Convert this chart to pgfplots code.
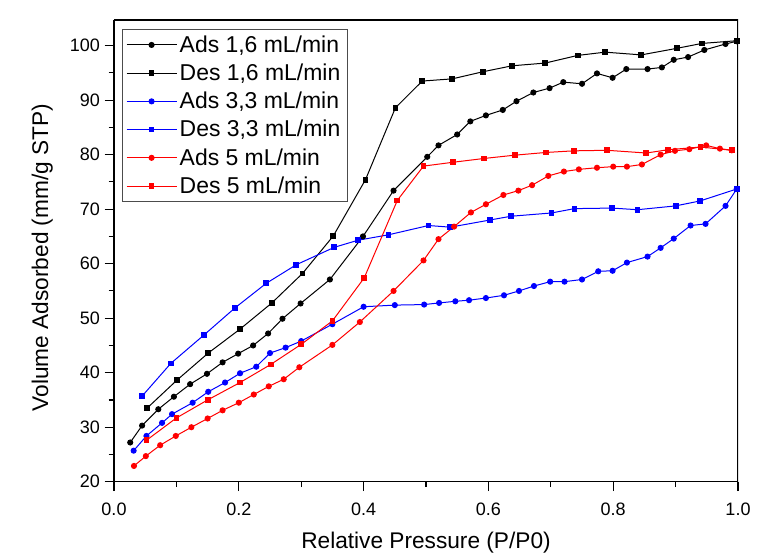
\documentclass[border=0pt]{standalone}
\usepackage{fontspec}
\setmainfont{Liberation Sans}
\usepackage{pgfplots}
\pgfplotsset{compat=1.18}

\begin{document}
\begin{tikzpicture}
\begin{axis}[
    name=ax,
    at={(0,0)}, anchor=south west,
    width=468pt, height=346.3pt, scale only axis,
    xmin=0, xmax=1, ymin=20, ymax=104.7,
    xtick={0,0.2,...,1.0}, minor x tick num=1,
    ytick={20,30,...,100}, minor y tick num=1,
    axis x line*=bottom, axis y line*=left,
    tick align=outside,
    major tick length=7pt, minor tick length=4pt,
    every tick/.style={black, line width=0.8pt},
    axis line style={line width=0.9pt},
    /pgf/number format/assume math mode=true,
    tick label style={font=\fontsize{13.5}{16}\selectfont},
    xticklabel style={yshift=-5pt, /pgf/number format/.cd, fixed, fixed zerofill, precision=1},
    xlabel={Relative Pressure (P/P0)},
    ylabel={Volume Adsorbed (mm/g STP)},
    label style={font=\fontsize{17}{20}\selectfont},
    xlabel style={yshift=-6pt},
    ylabel style={yshift=6pt, xshift=-5pt},
    legend cell align=left,
    legend style={at={(0.0123,0.98)}, anchor=north west,
        draw=black!70, line width=0.6pt,
        font=\fontsize{17.2}{20}\selectfont, row sep=3.2pt,
        inner xsep=3pt, inner ysep=2.5pt},
    legend image code/.code={\draw[mark repeat=2,mark phase=2,#1]
        plot coordinates {(0pt,0pt)(18.75pt,0pt)(37.5pt,0pt)};},
    every axis plot/.append style={line width=0.75pt},
]
% box on top and right
\addplot[black, line width=0.9pt, forget plot, mark=none] coordinates {(0,104.7)(1,104.7)(1,20)};

\addplot[black, mark=*, mark size=1.9pt] coordinates {
(0.026,27.2)(0.045,30.3)(0.071,33.3)(0.096,35.6)(0.122,37.9)(0.149,39.8)(0.174,41.9)(0.199,43.5)(0.223,45.0)(0.247,47.2)(0.270,49.9)(0.299,52.7)(0.346,57.1)(0.399,65.0)(0.448,73.4)(0.502,79.6)(0.520,81.7)(0.550,83.7)(0.571,86.1)(0.596,87.2)(0.623,88.2)(0.645,89.8)(0.672,91.4)(0.698,92.2)(0.720,93.3)(0.750,93.0)(0.774,94.9)(0.799,94.1)(0.821,95.7)(0.855,95.7)(0.878,96.0)(0.897,97.4)(0.920,97.9)(0.946,99.2)(0.980,100.3)(0.998,100.8)};
\addlegendentry{Ads 1,6 mL/min}

\addplot[black, mark=square*, mark size=1.8pt] coordinates {
(0.053,33.5)(0.1015,38.7)(0.151,43.6)(0.202,48.0)(0.253,52.8)(0.302,58.2)(0.3515,65.1)(0.403,75.4)(0.451,88.6)(0.494,93.5)(0.542,93.9)(0.591,95.2)(0.638,96.3)(0.691,96.8)(0.743,98.2)(0.787,98.8)(0.845,98.3)(0.902,99.5)(0.942,100.4)(0.998,100.9)};
\addlegendentry{Des 1,6 mL/min}

\addplot[blue, mark=*, mark size=1.9pt] coordinates {
(0.0315,25.7)(0.052,28.4)(0.077,30.8)(0.093,32.4)(0.126,34.5)(0.151,36.5)(0.178,38.2)(0.202,39.9)(0.228,41.1)(0.250,43.6)(0.275,44.6)(0.300,45.8)(0.350,48.9)(0.400,52.1)(0.450,52.4)(0.497,52.5)(0.521,52.8)(0.547,53.1)(0.569,53.3)(0.596,53.7)(0.625,54.2)(0.649,55.0)(0.673,55.9)(0.699,56.7)(0.722,56.7)(0.750,57.1)(0.776,58.6)(0.799,58.7)(0.822,60.2)(0.855,61.3)(0.876,62.9)(0.897,64.6)(0.924,67.0)(0.948,67.3)(0.980,70.6)(0.998,73.7)};
\addlegendentry{Ads 3,3 mL/min}

\addplot[blue, mark=square*, mark size=1.8pt] coordinates {
(0.045,35.7)(0.091,41.7)(0.144,46.9)(0.194,51.9)(0.244,56.4)(0.292,59.8)(0.353,63.0)(0.391,64.3)(0.440,65.3)(0.504,67.0)(0.539,66.7)(0.602,68.0)(0.636,68.7)(0.701,69.3)(0.738,70.1)(0.798,70.2)(0.839,69.9)(0.900,70.6)(0.939,71.5)(0.998,73.7)};
\addlegendentry{Des 3,3 mL/min}

\addplot[red, mark=*, mark size=1.9pt] coordinates {
(0.032,22.9)(0.051,24.7)(0.074,26.7)(0.099,28.4)(0.124,30.0)(0.150,31.6)(0.174,33.1)(0.200,34.5)(0.224,36.0)(0.248,37.5)(0.272,38.8)(0.297,41.0)(0.350,45.1)(0.394,49.3)(0.448,55.0)(0.496,60.6)(0.520,64.5)(0.545,66.8)(0.572,69.4)(0.596,70.9)(0.624,72.6)(0.648,73.4)(0.670,74.4)(0.696,76.1)(0.721,76.9)(0.745,77.3)(0.774,77.6)(0.800,77.8)(0.822,77.8)(0.846,78.2)(0.876,80.0)(0.899,80.7)(0.922,81.0)(0.949,81.7)(0.971,81.1)(0.990,80.8)};
\addlegendentry{Ads 5 mL/min}

\addplot[red, mark=square*, mark size=1.8pt] coordinates {
(0.052,27.6)(0.100,31.7)(0.150,35.0)(0.202,38.2)(0.251,41.5)(0.300,45.2)(0.350,49.5)(0.401,57.4)(0.454,71.6)(0.496,77.9)(0.543,78.6)(0.593,79.3)(0.642,79.9)(0.692,80.4)(0.737,80.7)(0.790,80.8)(0.853,80.3)(0.888,80.9)(0.940,81.4)(0.990,80.8)};
\addlegendentry{Des 5 mL/min}
\end{axis}
\pgfresetboundingbox
\path (-85.5pt,-57.2pt) rectangle (489pt,361.3pt);
\end{tikzpicture}
\end{document}
